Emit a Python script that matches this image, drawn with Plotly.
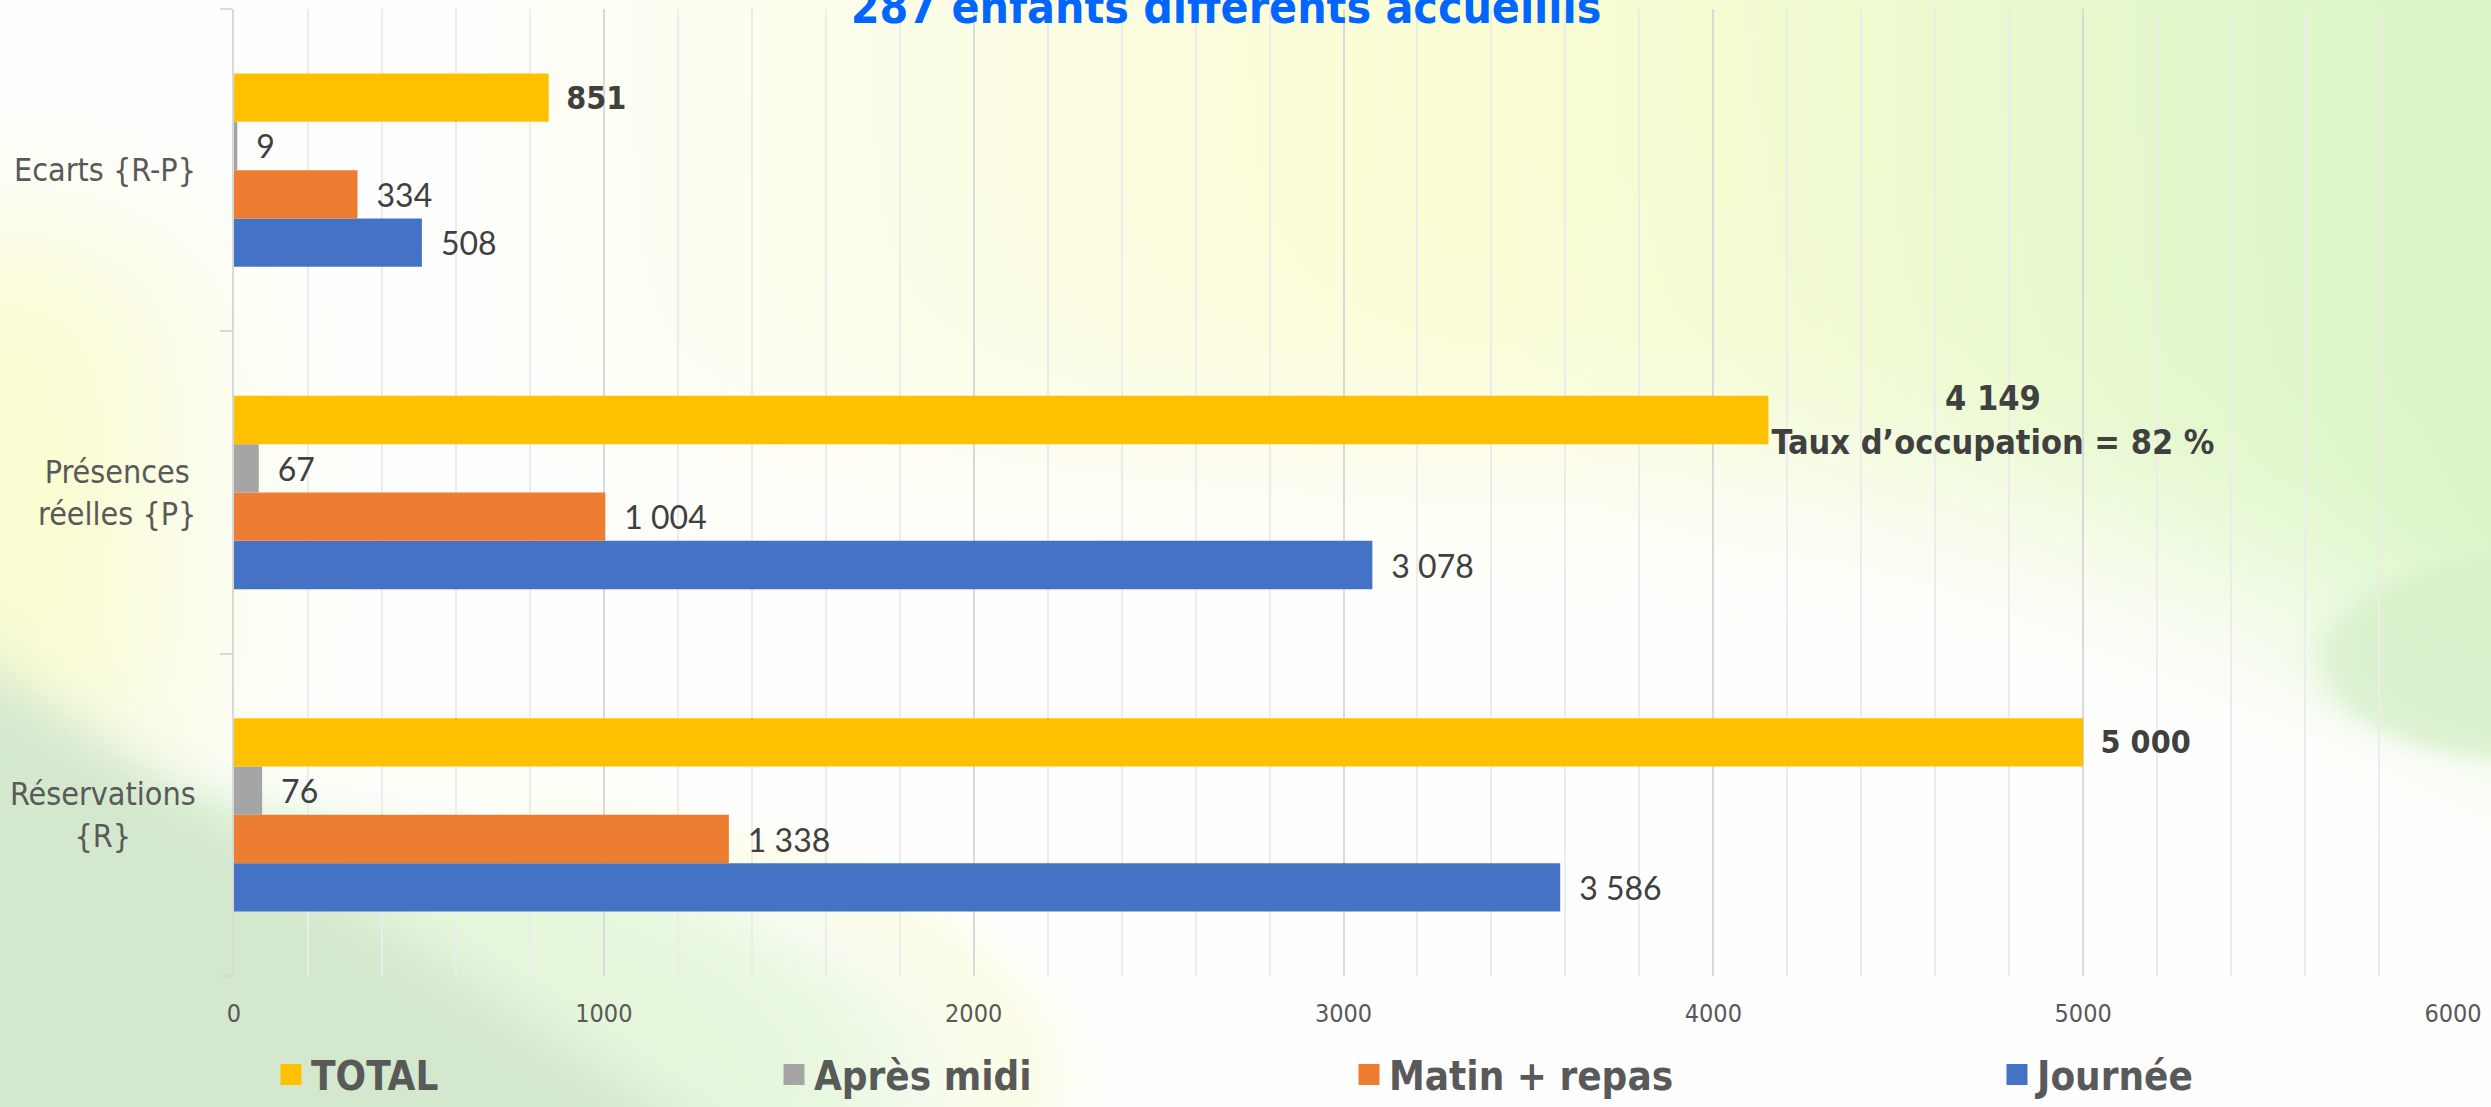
import base64
import struct
import zlib

import numpy as np
import plotly.graph_objects as go

# ---------------- data ----------------
categories = ["Réservations {R}", "Présences réelles {P}", "Ecarts {R-P}"]
category_labels = ["Réservations<br>{R}", "Présences<br>réelles {P}", "Ecarts {R-P}"]
journee = [3586, 3078, 508]
matin_repas = [1338, 1004, 334]
apres_midi = [76, 67, 9]
total = [5000, 4149, 851]
series_names = ["Journée", "Matin + repas", "Après midi", "TOTAL"]
series_colors = ["#4472C4", "#ED7D31", "#A5A5A5", "#FFC000"]
x_ticks = [0, 1000, 2000, 3000, 4000, 5000, 6000]
title_text = "287 enfants différents accueillis"
occupation_note = "Taux d’occupation = 82 %"

# ---------------- geometry ----------------
W, H = 2491, 1107
L, R, T, B = 234, 38, 9, 131
PW, PH = W - L - R, H - T - B


def fmt(v):
    return f"{v:,}".replace(",", "\u00a0")


# ---------------- background image (decorative) ----------------
def sig(z):
    return 1.0 / (1.0 + np.exp(-z))


def make_background(w=623, h=277):
    X = (np.arange(w) + 0.5) * W / w
    Y = (np.arange(h) + 0.5) * H / h
    X, Y = np.meshgrid(X, Y)
    img = np.full((h, w, 3), 255.0)

    def blend(weight, color):
        nonlocal img
        col = np.asarray(color, dtype=float)
        if col.ndim == 1:
            col = col[None, None, :]
        img = img * (1 - weight[..., None]) + col * weight[..., None]

    # top band: pale yellow -> green toward the right
    t = np.clip((X - 1500) / 1000, 0, 1)
    yc = 440 + 260 * t ** 2
    s = np.clip((X - 450) / 1000, 0, 1) ** 0.8
    w_top = s * sig((yc - Y) / 60)
    yellow = np.array([251, 253, 212.0])
    green = np.array([218, 246, 200.0])
    col_top = yellow[None, None, :] * (1 - t[..., None]) + green[None, None, :] * t[..., None]
    blend(w_top, col_top)

    # left yellow glow
    w_left = 0.85 * np.exp(-(X / 210) ** 2) * sig((Y - 240) / 50) * sig((760 - Y) / 40)
    blend(w_left, (249, 252, 200))

    # light green lens bottom-left
    e = ((X + 150) / 1060) ** 2 + ((Y - 1080) / 300) ** 2
    blend(0.85 * sig((1 - e) / 0.08), (226, 246, 214))

    # yellow fringe next to the lens
    e2 = ((X + 150) / 1160) ** 2 + ((Y - 1080) / 360) ** 2
    ring = np.exp(-((e2 - 1.0) / 0.12) ** 2) * sig((Y - 800) / 40)
    blend(0.35 * ring, (246, 252, 196))

    # darker green corner
    blend(sig((Y - (673 + 0.66 * X)) / 20), (212, 232, 205))

    # right green swoosh
    e3 = ((X - 2530) / 210) ** 2 + ((Y - 660) / 100) ** 2
    blend(0.8 * sig((1 - e3) / 0.1), (214, 240, 200))

    return np.clip(img, 0, 255).astype(np.uint8)


def png_data_uri(arr):
    h, w, _ = arr.shape
    raw = b"".join(b"\x00" + arr[i].tobytes() for i in range(h))

    def chunk(tag, data):
        c = struct.pack(">I", len(data)) + tag + data
        return c + struct.pack(">I", zlib.crc32(tag + data) & 0xFFFFFFFF)

    png = (b"\x89PNG\r\n\x1a\n"
           + chunk(b"IHDR", struct.pack(">IIBBBBB", w, h, 8, 2, 0, 0, 0))
           + chunk(b"IDAT", zlib.compress(raw, 9))
           + chunk(b"IEND", b""))
    return "data:image/png;base64," + base64.b64encode(png).decode()


bg_uri = png_data_uri(make_background())

# ---------------- figure ----------------
fig = go.Figure()

label_font = dict(family="Lato, DejaVu Sans", size=32, color="#404040")
series_values = [journee, matin_repas, apres_midi]
for name, color, vals in zip(series_names[:3], series_colors[:3], series_values):
    fig.add_trace(go.Bar(
        orientation="h", y=categories, x=vals, name=name,
        marker=dict(color=color, line=dict(width=0)),
        text=["\u2002" + fmt(v) for v in vals],
        textposition="outside", textfont=label_font,
        constraintext="none", cliponaxis=False, showlegend=False,
    ))

total_text = []
for cat, v in zip(categories, total):
    if cat.startswith("Présences"):
        total_text.append(fmt(v) + "<br>" + occupation_note)
    else:
        total_text.append("\u2002" + fmt(v))

fig.add_trace(go.Bar(
    orientation="h", y=categories, x=total, name="TOTAL",
    marker=dict(color=series_colors[3], line=dict(width=0)),
    text=total_text, textposition="outside",
    textfont=dict(family="DejaVu Sans Condensed, DejaVu Sans", size=[32, 34, 32],
                  color="#404040", weight="bold"),
    constraintext="none", cliponaxis=False, showlegend=False,
))

# legend entries (one legend per item, laid out like the original)
legend_order = ["TOTAL", "Après midi", "Matin + repas", "Journée"]
legend_centers = [292, 795, 1370, 2018]
legend_ids = ["legend", "legend2", "legend3", "legend4"]
color_of = dict(zip(series_names, series_colors))
legend_layouts = {}
for name, cx, lid in zip(legend_order, legend_centers, legend_ids):
    c = color_of[name]
    fig.add_trace(go.Scatter(
        x=[None], y=[None], mode="markers", name=name, legend=lid,
        marker=dict(symbol="square", size=16, color=c, line=dict(color=c, width=5)),
        hoverinfo="skip",
    ))
    legend_layouts[lid] = dict(
        x=(cx - 21 - L) / PW, xanchor="left",
        y=-0.008, yref="container", yanchor="bottom",
        orientation="h", bgcolor="rgba(0,0,0,0)", itemsizing="trace",
        font=dict(family="DejaVu Sans Condensed, DejaVu Sans", size=40,
                  color="#595959", weight="bold"),
    )

annotations = []
for cat, lab in zip(categories, category_labels):
    annotations.append(dict(
        x=0, xref="paper", y=cat, yref="y", xanchor="right", yanchor="middle",
        xshift=-36, text=lab, showarrow=False, align="center",
        font=dict(family="DejaVu Sans Condensed, DejaVu Sans", size=32, color="#595959"),
    ))

fig.update_layout(
    width=W, height=H,
    margin=dict(l=L, r=R, t=T, b=B, pad=0),
    paper_bgcolor="white", plot_bgcolor="rgba(0,0,0,0)",
    barmode="group", bargap=0.4, bargroupgap=0,
    title=dict(text=title_text, x=1226 / W, xanchor="center", xref="container",
               y=1 - 7 / H, yanchor="middle", yref="container",
               font=dict(family="DejaVu Sans Condensed, DejaVu Sans", size=46,
                         color="#0066FF", weight="bold")),
    xaxis=dict(range=[0, 6000], tickvals=x_ticks, tickformat="d",
               showgrid=True, gridcolor="#d9d9d9", gridwidth=2,
               minor=dict(dtick=200, showgrid=True, gridcolor="#ececec", gridwidth=1.5),
               showline=False, zeroline=False, ticks="",
               tickfont=dict(family="DejaVu Sans Condensed, DejaVu Sans", size=25, color="#595959"),
               ticklabelstandoff=20),
    yaxis=dict(type="category", categoryorder="array", categoryarray=categories,
               showline=True, linecolor="#d9d9d9", linewidth=2,
               ticks="outside", tickson="boundaries", ticklen=12,
               tickcolor="#d9d9d9", tickwidth=2,
               showticklabels=False, showgrid=False, zeroline=False),
    annotations=annotations,
    images=[dict(source=bg_uri, xref="paper", yref="paper",
                 x=-L / PW, y=1 + T / PH, sizex=W / PW, sizey=H / PH,
                 xanchor="left", yanchor="top", sizing="stretch", layer="below")],
    **legend_layouts,
)

fig.write_html(
    "out.html",
    config={"displayModeBar": False},
    post_script="document.body.style.margin='0';document.body.style.overflow='hidden';",
)
